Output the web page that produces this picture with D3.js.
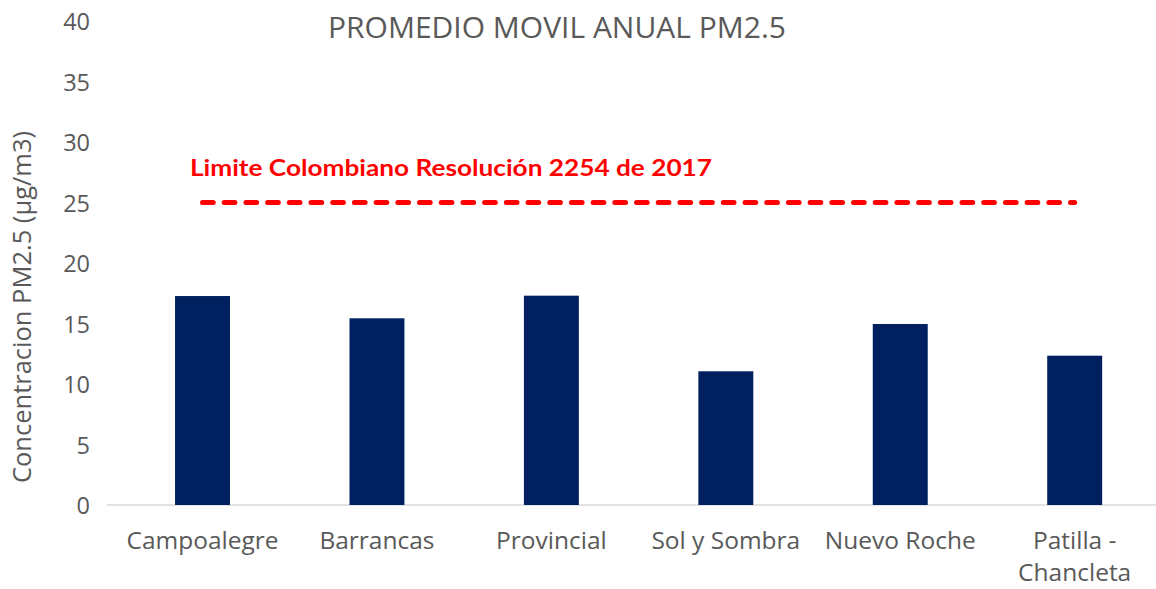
<!DOCTYPE html>
<html><head><meta charset="utf-8">
<script src="https://cdn.jsdelivr.net/npm/d3@7"></script>
<style>body{margin:0;background:#fff;}svg{display:block;font-family:"Open Sans", Lato, sans-serif;}</style>
</head><body>
<svg id="chart" width="1156" height="589"></svg>
<script>
const categories = ["Campoalegre","Barrancas","Provincial","Sol y Sombra","Nuevo Roche","Patilla - Chancleta"];
const values = [17.27, 15.43, 17.3, 11.05, 14.96, 12.34];
const limitValue = 25;
const yTicks = [0,5,10,15,20,25,30,35,40];
const title = "PROMEDIO MOVIL ANUAL PM2.5";
const yTitle = "Concentracion PM2.5 (µg/m3)";
const limitLabel = "Limite Colombiano Resolución 2254 de 2017";

const svg = d3.select("#chart");
const W = 1156, H = 589;
const x = d3.scaleBand().domain(categories).range([115.3, 1161.9]).paddingInner(0.685).paddingOuter(0.3425);
const y = d3.scaleLinear().domain([0, 40]).range([505, 21]);
const textColor = "#595959";
const cx = d => x(d) + x.bandwidth()/2;

// baseline
svg.append("line").attr("x1", 107).attr("x2", W).attr("y1", y(0)).attr("y2", y(0))
  .attr("stroke", "#d9d9d9").attr("stroke-width", 1.3);

// bars
svg.selectAll("rect.bar").data(values).enter().append("rect")
  .attr("class","bar")
  .attr("x", (d,i) => x(categories[i]))
  .attr("width", x.bandwidth())
  .attr("y", d => y(d))
  .attr("height", d => y(0) - y(d))
  .attr("fill", "#002060");

// y ticks
svg.selectAll("text.ytick").data(yTicks).enter().append("text")
  .attr("class","ytick")
  .attr("x", 90).attr("y", d => y(d) + 9)
  .attr("text-anchor","end")
  .attr("font-size", 23.5).attr("fill", textColor)
  .text(d => d);

// x labels
const xl = svg.selectAll("text.xtick").data(categories).enter().append("text")
  .attr("class","xtick")
  .attr("x", d => cx(d))
  .attr("y", 549)
  .attr("text-anchor","middle")
  .attr("font-size", 24.5).attr("fill", textColor);
xl.each(function(d){
  const t = d3.select(this);
  if (d === "Patilla - Chancleta") {
    t.append("tspan").attr("x", cx(d)).attr("dy", 0).text("Patilla -");
    t.append("tspan").attr("x", cx(d)).attr("dy", 32).text("Chancleta");
  } else t.text(d);
});

// y title
svg.append("text")
  .attr("transform", `translate(31, ${(y(0)+y(40))/2 + 44}) rotate(-90)`)
  .attr("text-anchor","middle")
  .attr("font-size", 25.5).attr("fill", textColor)
  .text(yTitle);

// title
svg.append("text").attr("x", 557).attr("y", 38).attr("text-anchor","middle")
  .attr("font-size", 30).attr("fill", textColor).text(title);

// limit line
svg.append("line")
  .attr("x1", cx(categories[0])).attr("x2", cx(categories[categories.length-1]))
  .attr("y1", y(limitValue)).attr("y2", y(limitValue))
  .attr("stroke", "#ff0000").attr("stroke-width", 5)
  .attr("stroke-dasharray", "10.7,11").attr("stroke-linecap","round");

svg.append("text").attr("x", 190).attr("y", 176)
  .attr("font-size", 23).attr("font-weight", "bold").attr("fill", "#ff0000")
  .attr("font-family", "Lato, sans-serif")
  .attr("textLength", 522).attr("lengthAdjust","spacingAndGlyphs")
  .text(limitLabel);
</script>
</body></html>
